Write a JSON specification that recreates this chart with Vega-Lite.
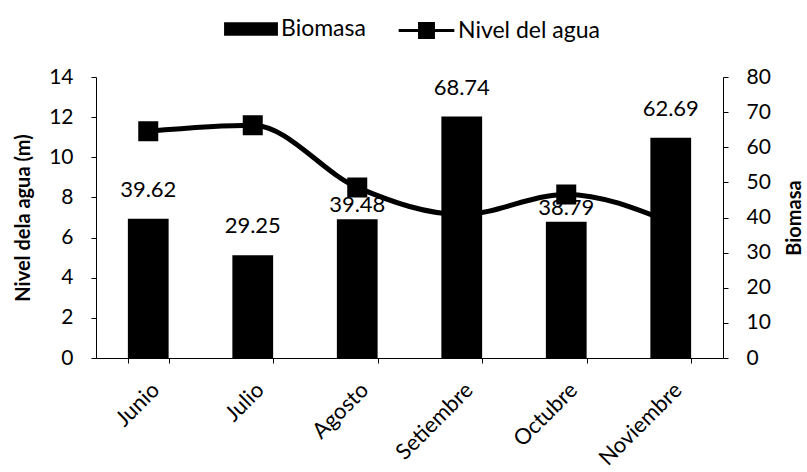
{
  "$schema": "https://vega.github.io/schema/vega-lite/v6.json",
  "autosize": {"type": "none"},
  "width": 627,
  "height": 281,
  "padding": {"left": 96, "top": 77, "right": 84, "bottom": 114},
  "background": "white",
  "config": {
    "font": "Lato",
    "view": {"stroke": null},
    "axis": {
      "domainColor": "black",
      "tickColor": "black",
      "labelColor": "black",
      "titleColor": "black",
      "labelFontSize": 21,
      "titleFontSize": 20,
      "titleFontWeight": "bold",
      "grid": false,
      "tickSize": 5,
      "labelFont": "Lato",
      "titleFont": "Lato"
    },
    "legend": {"labelFont": "Lato", "labelFontSize": 23, "labelColor": "black"}
  },
  "data": {
    "values": [
      {"mes": "Junio", "biomasa": 39.62, "nivel": 11.3},
      {"mes": "Julio", "biomasa": 29.25, "nivel": 11.6},
      {"mes": "Agosto", "biomasa": 39.48, "nivel": 8.5},
      {"mes": "Setiembre", "biomasa": 68.74, "nivel": 7.15},
      {"mes": "Octubre", "biomasa": 38.79, "nivel": 8.15},
      {"mes": "Noviembre", "biomasa": 62.69, "nivel": 6.75}
    ]
  },
  "encoding": {
    "x": {
      "field": "mes",
      "type": "nominal",
      "sort": null,
      "scale": {"paddingInner": 0.61, "paddingOuter": 0.305},
      "axis": {"title": null, "labelAngle": -45, "tickBand": "extent", "labelPadding": 16, "labelFontSize": 22, "domainWidth": 1}
    }
  },
  "layer": [
    {
      "encoding": {
        "y": {
          "field": "biomasa",
          "type": "quantitative",
          "scale": {"domain": [0, 80], "nice": false},
          "axis": {"orient": "right", "title": "Biomasa", "values": [0, 10, 20, 30, 40, 50, 60, 70, 80], "titleAngle": -90, "titleBaseline": "top", "labelPadding": 18, "titlePadding": 14}
        }
      },
      "layer": [
        {
          "mark": {"type": "bar", "color": "black"},
          "encoding": {
            "fill": {
              "datum": "Biomasa",
              "scale": {"range": ["black"]},
              "legend": {
                "orient": "none",
                "legendX": 127,
                "legendY": -76,
                "title": null,
                "symbolType": "M-1,-0.25H1V0.25H-1Z",
                "symbolSize": 2900,
                "labelOffset": 2
              }
            }
          }
        },
        {
          "transform": [{"filter": "datum.mes !== 'Agosto' && datum.mes !== 'Octubre'"}],
          "mark": {"type": "text", "baseline": "bottom", "dy": -17, "fontSize": 22, "color": "black"},
          "encoding": {"text": {"field": "biomasa", "format": ".2f"}}
        },
        {
          "transform": [{"filter": "datum.mes === 'Agosto' || datum.mes === 'Octubre'"}],
          "mark": {"type": "text", "baseline": "bottom", "dy": -2, "fontSize": 22, "color": "black"},
          "encoding": {"text": {"field": "biomasa", "format": ".2f"}}
        }
      ]
    },
    {
      "mark": {
        "type": "line",
        "interpolate": "monotone",
        "color": "black",
        "strokeWidth": 5,
        "point": {"shape": "square", "size": 324, "filled": true, "color": "black"}
      },
      "encoding": {
        "y": {
          "field": "nivel",
          "type": "quantitative",
          "scale": {"domain": [0, 14], "nice": false},
          "axis": {"orient": "left", "title": "Nivel dela agua (m)", "values": [0, 2, 4, 6, 8, 10, 12, 14], "labelPadding": 18, "titlePadding": 15}
        },
        "stroke": {
          "datum": "Nivel del agua",
          "scale": {"range": ["black"]},
          "legend": {
            "orient": "none",
            "legendX": 301,
            "legendY": -76,
            "title": null,
            "symbolType": "M-1,0H1M-0.25,-0.25H0.25V0.25H-0.25Z",
            "symbolSize": 3100,
            "symbolStrokeWidth": 3,
            "symbolFillColor": "black",
            "labelOffset": 2
          }
        }
      }
    }
  ],
  "resolve": {"scale": {"y": "independent", "fill": "independent", "stroke": "independent"}}
}
